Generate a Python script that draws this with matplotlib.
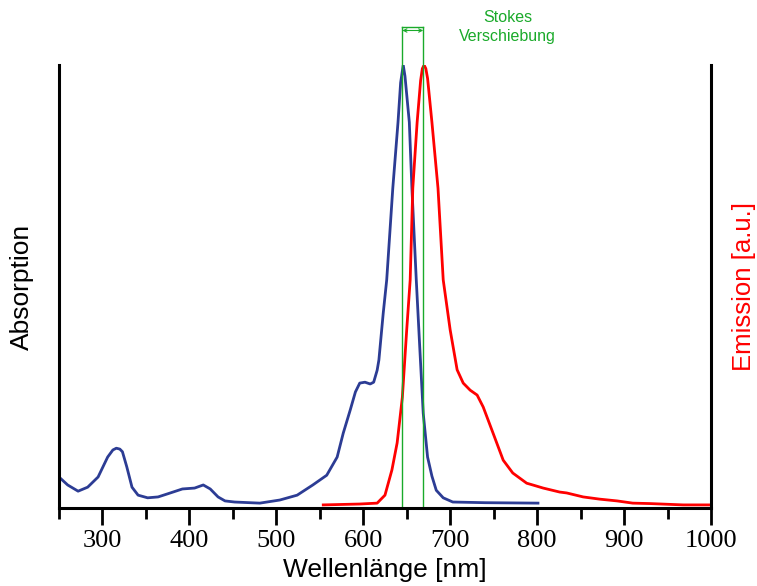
import matplotlib
matplotlib.use('Agg')
import matplotlib.pyplot as plt
from matplotlib.ticker import MultipleLocator

# absorption (blue)
abs_nm = [250, 260, 272, 283, 295, 306, 312, 316, 320, 323, 328, 334, 341, 352, 364, 375,
          392, 406, 416, 424, 433, 441, 452, 481, 504, 524, 542, 558, 570, 577, 585, 591,
          596, 602, 608, 612, 616, 618, 623, 627, 634, 640, 643, 646, 648, 653, 656, 661,
          665, 669, 674, 679, 684, 692, 703, 740, 801]
abs_val = [0.070, 0.052, 0.038, 0.047, 0.070, 0.115, 0.131, 0.135, 0.133, 0.127, 0.093,
           0.047, 0.029, 0.023, 0.025, 0.032, 0.043, 0.045, 0.052, 0.043, 0.025, 0.016,
           0.0135, 0.011, 0.018, 0.029, 0.052, 0.074, 0.115, 0.169, 0.221, 0.262, 0.282,
           0.284, 0.280, 0.284, 0.311, 0.334, 0.440, 0.515, 0.722, 0.871, 0.960, 1.0,
           0.975, 0.871, 0.722, 0.515, 0.363, 0.214, 0.115, 0.072, 0.040, 0.023, 0.0135,
           0.012, 0.011]

# emission (red)
em_nm = [554, 596, 616, 625, 633, 639, 645, 650, 654, 657, 662, 666, 668, 670, 672, 674,
         679, 686, 692, 700, 708, 715, 723, 731, 738, 748, 761, 772, 788, 795, 807, 826,
         834, 853, 872, 892, 910, 930, 968, 1000]
em_val = [0.007, 0.009, 0.011, 0.029, 0.086, 0.147, 0.250, 0.402, 0.515, 0.722, 0.871,
          0.965, 0.992, 1.0, 0.992, 0.970, 0.871, 0.722, 0.515, 0.402, 0.312, 0.282, 0.266,
          0.255, 0.228, 0.176, 0.108, 0.079, 0.056, 0.052, 0.045, 0.036, 0.034, 0.025,
          0.020, 0.016, 0.011, 0.010, 0.007, 0.007]

# Stokes shift markers (nm) and top of bracket
stokes_abs = 645
stokes_em = 669
bracket_top = 1.086

xticks = [300, 400, 500, 600, 700, 800, 900, 1000]

fig = plt.figure(figsize=(7.57, 5.86), dpi=100)
ax = fig.add_axes([0.0779, 0.1331, 0.8613, 0.7559])

blue = '#2c3c94'
red = '#ff0000'
green = '#1aaa2a'

ax.plot(abs_nm, abs_val, color=blue, lw=2.0, solid_joinstyle='round')
ax.plot(em_nm, em_val, color=red, lw=2.0, solid_joinstyle='round')

# Stokes shift lines and bracket
for x in (stokes_abs, stokes_em):
    ax.plot([x, x], [0, bracket_top], color=green, lw=1.0, clip_on=False)
ax.plot([stokes_abs, stokes_em], [bracket_top, bracket_top], color=green, lw=1.0, clip_on=False)
ax.annotate('', xy=(stokes_abs, bracket_top - 0.008), xytext=(stokes_em, bracket_top - 0.008),
            arrowprops=dict(arrowstyle='<->', color=green, lw=0.8, shrinkA=0, shrinkB=0,
                            mutation_scale=6),
            annotation_clip=False)
ax.text(766, bracket_top, 'Stokes\nVerschiebung', color=green, fontsize=11.5,
        family='Liberation Sans', ha='center', va='center', linespacing=1.3, clip_on=False)

ax.set_xlim(250, 1000)
ax.set_ylim(0, 1.0)

ax.spines['top'].set_visible(False)
for s in ('left', 'right', 'bottom'):
    ax.spines[s].set_linewidth(2.2)
ax.set_yticks([])
ax.set_xticks(xticks)
ax.xaxis.set_minor_locator(MultipleLocator(50))
ax.tick_params(axis='x', which='major', length=12, width=2, direction='out', pad=4)
ax.tick_params(axis='x', which='minor', length=8, width=2, direction='out')
for lab in ax.get_xticklabels():
    lab.set_family('Liberation Serif')
    lab.set_fontsize(19)

ax.set_xlabel('Wellenlänge [nm]', fontsize=19, family='Liberation Sans', labelpad=4)
ax.set_ylabel('Absorption', fontsize=19, family='Liberation Sans', labelpad=18)
ax.text(1.05, 0.5, 'Emission [a.u.]', color=red, fontsize=18.5, family='Liberation Sans',
        rotation=90, ha='center', va='center', transform=ax.transAxes)

fig.savefig('out.png', dpi=100)
